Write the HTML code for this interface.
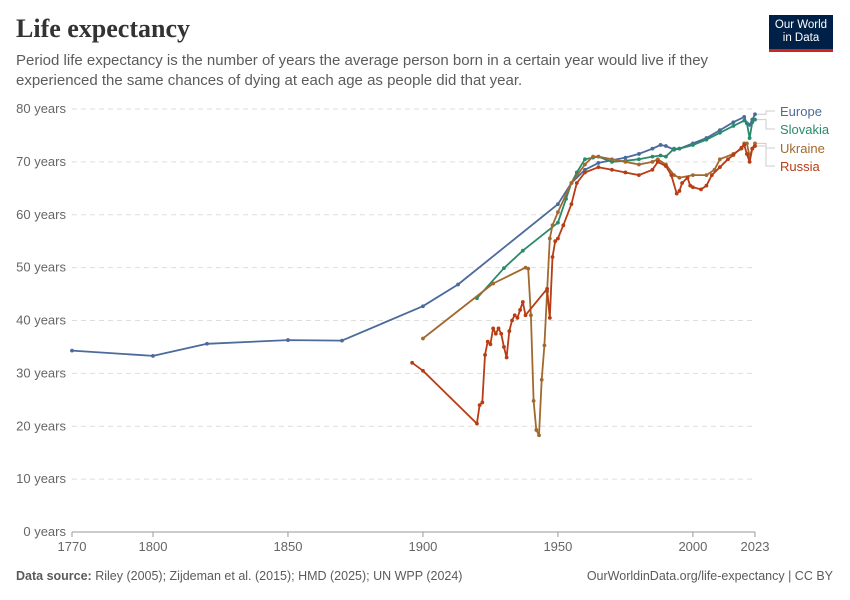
<!DOCTYPE html>
<html><head><meta charset="utf-8">
<style>
body{margin:0;background:#fff;font-family:"Liberation Sans",sans-serif;}
#wrap{position:relative;width:850px;height:600px;overflow:hidden;}
h1{position:absolute;left:16px;top:14px;margin:0;font-family:"Liberation Serif",serif;font-size:26px;font-weight:bold;color:#333;}
.sub{position:absolute;left:16px;top:51px;width:720px;font-size:15px;line-height:20px;color:#5b5b5b;}
.logo{position:absolute;left:769px;top:15px;width:64px;height:37px;background:#002147;color:#fff;font-size:11.5px;line-height:13px;text-align:center;padding-top:4px;box-sizing:border-box;border-bottom:3px solid #ce261e;}
.foot{position:absolute;top:569px;font-size:12.5px;color:#5b5b5b;}
</style></head><body>
<div id="wrap">
<h1>Life expectancy</h1>
<div class="sub">Period life expectancy is the number of years the average person born in a certain year would live if they experienced the same chances of dying at each age as people did that year.</div>
<div class="logo">Our World<br>in Data</div>
<svg id="chart" width="850" height="600" style="position:absolute;left:0;top:0"></svg>
<div class="foot" style="left:16px"><b>Data source:</b> Riley (2005); Zijdeman et al. (2015); HMD (2025); UN WPP (2024)</div>
<div class="foot" style="right:17px">OurWorldinData.org/life-expectancy | CC BY</div>
</div>
<script>
const yTicks=[0,10,20,30,40,50,60,70,80];
const xTicks=[1770,1800,1850,1900,1950,2000,2023];
const seriesNames=["Europe","Slovakia","Ukraine","Russia"];
const seriesColors=["#4c6a9c","#2a8a6c","#a2692f","#b83c14"];
const europeYears=[1770,1800,1820,1850,1870,1900,1913,1950,1955,1960,1965,1970,1975,1980,1985,1988,1990,1993,1995,2000,2005,2010,2015,2019,2020,2021,2022,2023];
const europeVals=[34.3,33.3,35.6,36.3,36.2,42.7,46.8,62,66,68.5,69.8,70.3,70.8,71.5,72.5,73.2,73,72.3,72.5,73.5,74.5,76,77.5,78.5,77.3,77,78,79];
const slovakiaYears=[1920,1930,1937,1950,1953,1955,1957,1960,1963,1965,1970,1975,1980,1985,1988,1990,1993,1995,2000,2005,2010,2015,2019,2020,2021,2022,2023];
const slovakiaVals=[44.2,49.9,53.2,58.5,63,66,68,70.5,70.8,71,70,70.2,70.5,71,71.2,71,72.5,72.5,73.2,74.2,75.5,76.8,77.8,77.3,74.5,77.5,78];
const ukraineYears=[1900,1926,1938,1939,1940,1941,1942,1943,1944,1945,1946,1947,1948,1950,1955,1960,1963,1965,1970,1975,1980,1985,1987,1990,1993,1995,2000,2005,2008,2010,2015,2018,2019,2020,2021,2022,2023];
const ukraineVals=[36.6,47,50,49.8,41,24.8,19.3,18.3,28.8,35.3,45.5,55.5,58,60.5,66,69.5,71,71,70.5,70,69.5,70,70.5,69.5,67.5,67,67.5,67.5,68.5,70.5,71.5,72.5,73.5,73.5,71,72.5,73.5];
const russiaYears=[1896,1900,1920,1921,1922,1923,1924,1925,1926,1927,1928,1929,1930,1931,1932,1933,1934,1935,1936,1937,1938,1946,1947,1948,1949,1950,1952,1955,1957,1960,1965,1970,1975,1980,1985,1987,1990,1992,1994,1995,1996,1998,1999,2000,2003,2005,2007,2010,2013,2015,2018,2019,2020,2021,2022,2023];
const russiaVals=[32,30.5,20.5,24,24.5,33.5,36,35.5,38.5,37.5,38.5,37.5,35,33,38,40,41,40.5,42,43.5,41,46,40.5,52,55,55.5,58,62,66,68,69,68.5,68,67.5,68.5,70,69.2,67.5,64,64.5,66,67,65.5,65.2,64.8,65.5,67.5,69,70.5,71.3,72.7,73.2,71.5,70,72.5,73];
const allYears=[europeYears,slovakiaYears,ukraineYears,russiaYears];
const allVals=[europeVals,slovakiaVals,ukraineVals,russiaVals];

const X=y=>72+(y-1770)*(683/253);
const Y=v=>532-v*(423/80);
const NS="http://www.w3.org/2000/svg";
const svg=document.getElementById("chart");
function mk(t,a){const e=document.createElementNS(NS,t);for(const k in a)e.setAttribute(k,a[k]);svg.appendChild(e);return e;}
yTicks.forEach(v=>{
  const l=mk("line",{x1:72,x2:755,y1:Y(v),y2:Y(v),stroke:"#ddd","stroke-dasharray":v===0?"":"5,4"});
  
  
  const t=mk("text",{x:66,y:Y(v)+4,"text-anchor":"end","font-size":13,fill:"#666"});
  t.textContent=v+" years";
  
  
});
const ax=mk("line",{x1:72,x2:755,y1:532,y2:532,stroke:"#999"});


xTicks.forEach(yr=>{
  const tk=mk("line",{x1:X(yr),x2:X(yr),y1:532,y2:537,stroke:"#999"});
  
  
  const t=mk("text",{x:X(yr),y:551,"text-anchor":"middle","font-size":13,fill:"#666"});
  t.textContent=yr;
  
  
});
seriesNames.forEach((n,i)=>{
  const ys=allYears[i],vs=allVals[i];
  const pts=ys.map((y,j)=>X(y).toFixed(1)+","+Y(vs[j]).toFixed(1)).join(" ");
  const pl=mk("polyline",{points:pts,fill:"none",stroke:seriesColors[i],"stroke-width":1.8,"stroke-linejoin":"round"});
  
  
  ys.forEach((y,j)=>{
    const c=mk("circle",{cx:X(y),cy:Y(vs[j]),r:1.9,fill:seriesColors[i]});
    
    
  });
});
const labY=[111,129,148,166];
const endY=allVals.map(v=>Y(v[v.length-1]));
seriesNames.forEach((n,i)=>{
  const p=mk("polyline",{points:`757,${endY[i]} 766,${endY[i]} 766,${labY[i]} 775,${labY[i]}`,fill:"none",stroke:"#ccc"});
  
  
  const t=mk("text",{x:780,y:labY[i]+5,"font-size":13,fill:seriesColors[i]});
  t.textContent=n;
  
  
});
</script>
</body></html>
